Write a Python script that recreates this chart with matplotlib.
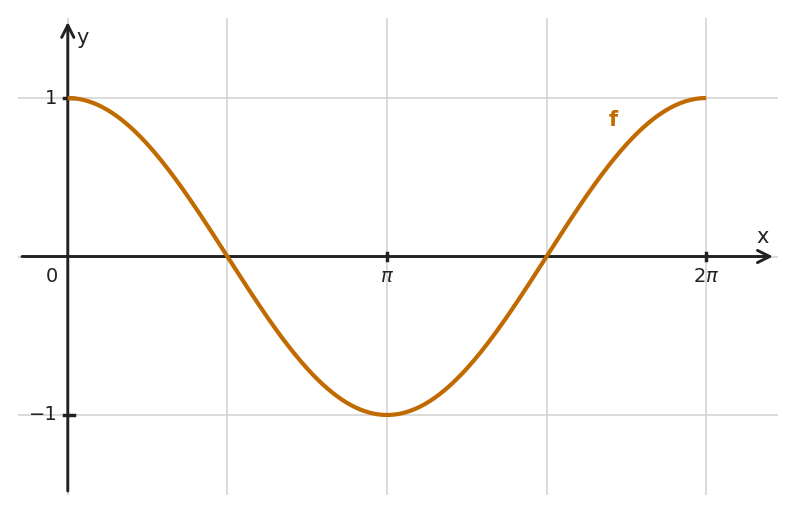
import numpy as np
import matplotlib.pyplot as plt

# function f(x) = cos(x) on [0, 2pi]
x_start = 0.0
x_end = 2 * np.pi
n_samples = 400

x_ticks = [np.pi, 2 * np.pi]
x_tick_labels = [r'$\pi$', r'$2\pi$']
y_ticks = [1, -1]
y_tick_labels = ['1', '\u22121']
x_grid = [0, np.pi / 2, np.pi, 3 * np.pi / 2, 2 * np.pi]
y_grid = [-1, 0, 1]

curve_color = '#c06a00'
axis_color = '#222222'
grid_color = '#d4d4d4'

fig = plt.figure(figsize=(7.95, 5.13), dpi=100)
ax = fig.add_axes([18 / 795, 18 / 513, 760 / 795, 477 / 513])
ax.set_xlim(-0.49, 6.99)
ax.set_ylim(-1.505, 1.505)
for s in ax.spines.values():
    s.set_visible(False)
ax.set_xticks([])
ax.set_yticks([])

for gx in x_grid:
    ax.axvline(gx, color=grid_color, lw=1.2, zorder=0)
for gy in y_grid:
    ax.axhline(gy, color=grid_color, lw=1.2, zorder=0)

# axes with arrows
arrow = dict(arrowstyle='->', color=axis_color, lw=2.1, mutation_scale=22,
             shrinkA=0, shrinkB=0)
ax.annotate('', xy=(6.94, 0), xytext=(-0.45, 0), arrowprops=arrow, zorder=3)
ax.annotate('', xy=(0, 1.48), xytext=(0, -1.48), arrowprops=arrow, zorder=3)

# tick marks
for tx in x_ticks:
    ax.plot([tx, tx], [-0.025, 0.025], color=axis_color, lw=2.5, zorder=3)
for ty in y_ticks:
    ax.plot([-0.04, 0.06], [ty, ty], color=axis_color, lw=2.5, zorder=3)

xs = np.linspace(x_start, x_end, n_samples)
ax.plot(xs, np.cos(xs), color=curve_color, lw=3.0, zorder=4, solid_capstyle='butt')

fs = 14
for tx, lab in zip(x_ticks, x_tick_labels):
    ax.text(tx, -0.065, lab, ha='center', va='top', fontsize=fs, color=axis_color)
for ty, lab in zip(y_ticks, y_tick_labels):
    ax.text(-0.1, ty, lab, ha='right', va='center', fontsize=fs, color=axis_color)
ax.text(-0.1, -0.065, '0', ha='right', va='top', fontsize=fs, color=axis_color)
ax.text(6.84, 0.06, 'x', ha='center', va='bottom', fontsize=fs + 1, color=axis_color)
ax.text(0.08, 1.38, 'y', ha='left', va='center', fontsize=fs + 1, color=axis_color)
ax.text(5.37, 0.86, 'f', ha='center', va='center', fontsize=fs + 1,
        fontweight='bold', color=curve_color)

fig.savefig('out.png', dpi=100)
